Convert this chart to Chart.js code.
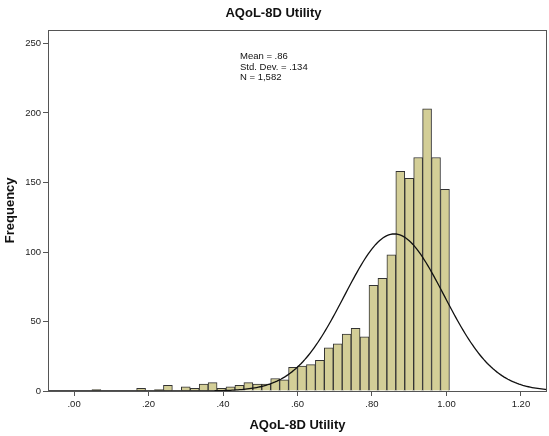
<!DOCTYPE html>
<html>
<head>
<meta charset="utf-8">
<script src="https://cdn.jsdelivr.net/npm/chart.js@4"></script>
<style>
    html, body { margin: 0; padding: 0; background: #fff; }
    #wrap { width: 549px; height: 436px; }
</style>
</head>
<body>
<div id="wrap"><canvas id="utilityChart" width="549" height="436"></canvas></div>
<script>
// bin midpoints (bin width .024, first bin starts at .00)
const binMids = [
    0.012, 0.036, 0.060, 0.084, 0.108, 0.132, 0.156, 0.180, 0.204, 0.228,
    0.252, 0.276, 0.300, 0.324, 0.348, 0.372, 0.396, 0.420, 0.444, 0.468,
    0.492, 0.516, 0.540, 0.564, 0.588, 0.612, 0.636, 0.660, 0.684, 0.708,
    0.732, 0.756, 0.780, 0.804, 0.828, 0.852, 0.876, 0.900, 0.924, 0.948,
    0.972, 0.996
];
const counts = [
    0, 0, 1, 0, 0, 0, 0, 2, 0, 1,
    4, 0, 3, 2, 5, 6, 2, 3, 4, 6,
    5, 5, 9, 8, 17, 18, 19, 22, 31, 34,
    41, 45, 39, 76, 81, 98, 158, 153, 168, 203,
    168, 145
];
const binWidth = 0.024;
const utilMean = 0.86;
const utilSd = 0.134;
const utilN = 1582;

const xTickValues = [0, 0.2, 0.4, 0.6, 0.8, 1.0, 1.2];
const xTickLabels = [".00", ".20", ".40", ".60", ".80", "1.00", "1.20"];
const yTickValues = [0, 50, 100, 150, 200, 250];
const statsLines = ["Mean = .86", "Std. Dev. = .134", "N = 1,582"];

const FONT = "'Liberation Sans', Arial, sans-serif";

// normal curve scaled to counts per bin
function normalCurve(xMin, xMax, step) {
    const pts = [];
    const scale = utilN * binWidth / (utilSd * Math.sqrt(2 * Math.PI));
    for (let x = xMin; x <= xMax + 1e-9; x += step) {
        const z = (x - utilMean) / utilSd;
        pts.push({ x: x, y: scale * Math.exp(-0.5 * z * z) });
    }
    return pts;
}

const frameBox = {
    id: "frameBox",
    afterDatasetsDraw(chart) {
        const { ctx, chartArea: a } = chart;
        ctx.save();
        ctx.strokeStyle = "#555";
        ctx.lineWidth = 1;
        ctx.strokeRect(Math.round(a.left) + 0.5, Math.round(a.top) + 0.5,
            Math.round(a.right - a.left) - 1, Math.round(a.bottom - a.top));
        ctx.restore();
    }
};

const statsText = {
    id: "statsText",
    afterDraw(chart) {
        const { ctx, chartArea: a } = chart;
        ctx.save();
        ctx.font = "9.5px " + FONT;
        ctx.fillStyle = "#111";
        ctx.textBaseline = "middle";
        statsLines.forEach((line, i) => {
            ctx.fillText(line, a.left + 192, a.top + 27 + i * 10.3);
        });
        ctx.restore();
    }
};

const tickFont = { family: FONT, size: 9.5 };

new Chart(document.getElementById("utilityChart"), {
    type: "bar",
    data: {
        datasets: [
            {
                type: "line",
                data: normalCurve(-0.07, 1.27, 0.005),
                borderColor: "#111",
                borderWidth: 1.3,
                pointRadius: 0,
                tension: 0,
                fill: false,
                order: 0
            },
            {
                data: binMids.map((x, i) => ({ x: x, y: counts[i] })),
                backgroundColor: "#D3CE97",
                borderColor: "#333",
                borderWidth: 1,
                borderSkipped: "bottom",
                barPercentage: 1,
                categoryPercentage: 1,
                order: 1
            }
        ]
    },
    options: {
        responsive: false,
        animation: false,
        devicePixelRatio: 1,
        layout: { padding: { left: 0, right: 2, top: 0, bottom: 0 } },
        plugins: {
            legend: { display: false },
            tooltip: { enabled: false },
            title: {
                display: true,
                text: "AQoL-8D Utility",
                color: "#111",
                font: { family: FONT, size: 13, weight: "bold" },
                padding: { top: 6, bottom: 8 }
            }
        },
        scales: {
            x: {
                type: "linear",
                min: -0.07,
                max: 1.27,
                offset: false,
                border: { display: false },
                grid: { display: true, drawOnChartArea: false, drawTicks: true, tickLength: 5, tickColor: "#555", offset: false },
                afterBuildTicks: s => { s.ticks = xTickValues.map(v => ({ value: v })); },
                ticks: {
                    autoSkip: false,
                    maxRotation: 0,
                    padding: 3,
                    color: "#222",
                    font: tickFont,
                    callback: (v, i) => xTickLabels[i]
                },
                title: {
                    display: true,
                    text: "AQoL-8D Utility",
                    color: "#111",
                    font: { family: FONT, size: 13, weight: "bold" },
                    padding: { top: 0, bottom: 3 }
                },
                afterFit: s => { s.height = 45; }
            },
            y: {
                min: 0,
                max: 260,
                border: { display: false },
                grid: { display: true, drawOnChartArea: false, drawTicks: true, tickLength: 5, tickColor: "#555" },
                afterBuildTicks: s => { s.ticks = yTickValues.map(v => ({ value: v })); },
                ticks: {
                    padding: 2,
                    color: "#222",
                    font: tickFont
                },
                title: {
                    display: true,
                    text: "Frequency",
                    color: "#111",
                    font: { family: FONT, size: 13, weight: "bold" },
                    padding: { top: 3, bottom: 0 }
                },
                afterFit: s => { s.width = 48; }
            }
        }
    },
    plugins: [frameBox, statsText]
});
</script>
</body>
</html>
